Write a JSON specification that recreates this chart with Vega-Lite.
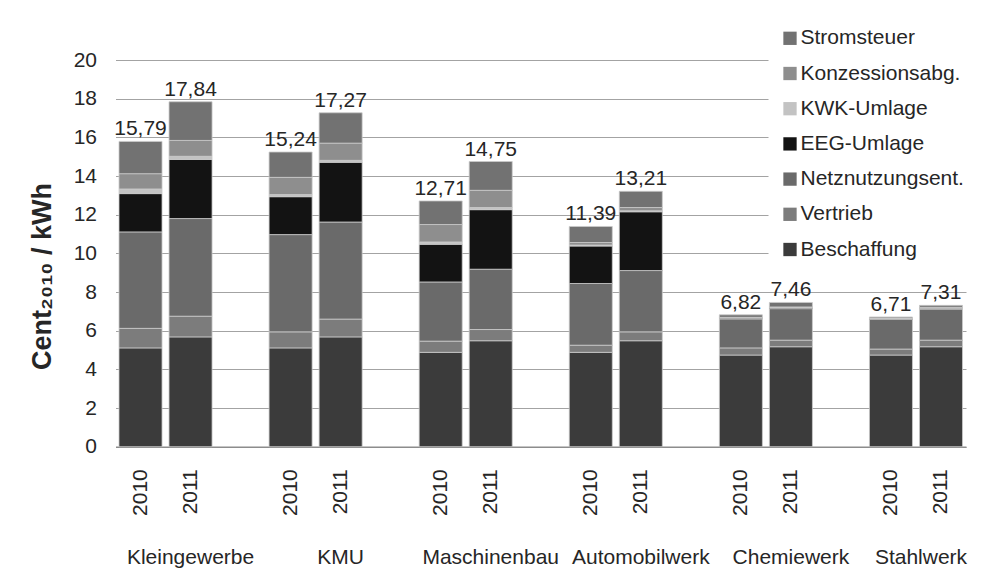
{
  "$schema": "https://vega.github.io/schema/vega-lite/v6.json",
  "width": 850.5,
  "height": 386.7,
  "autosize": {"type": "none"},
  "padding": {"left": 115.5, "top": 60, "right": 19, "bottom": 135.3},
  "background": "white",
  "config": {
    "view": {"stroke": null},
    "font": "Liberation Sans",
    "locale": {"number": {"decimal": ",", "thousands": ".", "grouping": [3], "currency": ["", " €"]}},
    "axis": {"labelFont": "Liberation Sans", "labelColor": "#262626", "titleColor": "#262626", "labelFontSize": 21},
    "axisY": {"labelOverlap": false}
  },
  "datasets": {
    "parts": [
      {"slot": "Kleingewerbe|2010", "component": "Beschaffung", "value": 5.11},
      {"slot": "Kleingewerbe|2010", "component": "Vertrieb", "value": 1.01},
      {"slot": "Kleingewerbe|2010", "component": "Netznutzungsent.", "value": 4.99},
      {"slot": "Kleingewerbe|2010", "component": "EEG-Umlage", "value": 1.98},
      {"slot": "Kleingewerbe|2010", "component": "KWK-Umlage", "value": 0.24},
      {"slot": "Kleingewerbe|2010", "component": "Konzessionsabg.", "value": 0.79},
      {"slot": "Kleingewerbe|2010", "component": "Stromsteuer", "value": 1.67},
      {"slot": "Kleingewerbe|2011", "component": "Beschaffung", "value": 5.68},
      {"slot": "Kleingewerbe|2011", "component": "Vertrieb", "value": 1.07},
      {"slot": "Kleingewerbe|2011", "component": "Netznutzungsent.", "value": 5.05},
      {"slot": "Kleingewerbe|2011", "component": "EEG-Umlage", "value": 3.06},
      {"slot": "Kleingewerbe|2011", "component": "KWK-Umlage", "value": 0.16},
      {"slot": "Kleingewerbe|2011", "component": "Konzessionsabg.", "value": 0.82},
      {"slot": "Kleingewerbe|2011", "component": "Stromsteuer", "value": 2.0},
      {"slot": "KMU|2010", "component": "Beschaffung", "value": 5.11},
      {"slot": "KMU|2010", "component": "Vertrieb", "value": 0.83},
      {"slot": "KMU|2010", "component": "Netznutzungsent.", "value": 5.03},
      {"slot": "KMU|2010", "component": "EEG-Umlage", "value": 1.96},
      {"slot": "KMU|2010", "component": "KWK-Umlage", "value": 0.11},
      {"slot": "KMU|2010", "component": "Konzessionsabg.", "value": 0.89},
      {"slot": "KMU|2010", "component": "Stromsteuer", "value": 1.31},
      {"slot": "KMU|2011", "component": "Beschaffung", "value": 5.68},
      {"slot": "KMU|2011", "component": "Vertrieb", "value": 0.92},
      {"slot": "KMU|2011", "component": "Netznutzungsent.", "value": 5.02},
      {"slot": "KMU|2011", "component": "EEG-Umlage", "value": 3.09},
      {"slot": "KMU|2011", "component": "KWK-Umlage", "value": 0.10},
      {"slot": "KMU|2011", "component": "Konzessionsabg.", "value": 0.89},
      {"slot": "KMU|2011", "component": "Stromsteuer", "value": 1.57},
      {"slot": "Maschinenbau|2010", "component": "Beschaffung", "value": 4.88},
      {"slot": "Maschinenbau|2010", "component": "Vertrieb", "value": 0.58},
      {"slot": "Maschinenbau|2010", "component": "Netznutzungsent.", "value": 3.06},
      {"slot": "Maschinenbau|2010", "component": "EEG-Umlage", "value": 1.95},
      {"slot": "Maschinenbau|2010", "component": "KWK-Umlage", "value": 0.12},
      {"slot": "Maschinenbau|2010", "component": "Konzessionsabg.", "value": 0.90},
      {"slot": "Maschinenbau|2010", "component": "Stromsteuer", "value": 1.22},
      {"slot": "Maschinenbau|2011", "component": "Beschaffung", "value": 5.48},
      {"slot": "Maschinenbau|2011", "component": "Vertrieb", "value": 0.58},
      {"slot": "Maschinenbau|2011", "component": "Netznutzungsent.", "value": 3.12},
      {"slot": "Maschinenbau|2011", "component": "EEG-Umlage", "value": 3.08},
      {"slot": "Maschinenbau|2011", "component": "KWK-Umlage", "value": 0.11},
      {"slot": "Maschinenbau|2011", "component": "Konzessionsabg.", "value": 0.89},
      {"slot": "Maschinenbau|2011", "component": "Stromsteuer", "value": 1.49},
      {"slot": "Automobilwerk|2010", "component": "Beschaffung", "value": 4.88},
      {"slot": "Automobilwerk|2010", "component": "Vertrieb", "value": 0.37},
      {"slot": "Automobilwerk|2010", "component": "Netznutzungsent.", "value": 3.19},
      {"slot": "Automobilwerk|2010", "component": "EEG-Umlage", "value": 1.94},
      {"slot": "Automobilwerk|2010", "component": "KWK-Umlage", "value": 0.05},
      {"slot": "Automobilwerk|2010", "component": "Konzessionsabg.", "value": 0.13},
      {"slot": "Automobilwerk|2010", "component": "Stromsteuer", "value": 0.83},
      {"slot": "Automobilwerk|2011", "component": "Beschaffung", "value": 5.48},
      {"slot": "Automobilwerk|2011", "component": "Vertrieb", "value": 0.46},
      {"slot": "Automobilwerk|2011", "component": "Netznutzungsent.", "value": 3.17},
      {"slot": "Automobilwerk|2011", "component": "EEG-Umlage", "value": 3.04},
      {"slot": "Automobilwerk|2011", "component": "KWK-Umlage", "value": 0.05},
      {"slot": "Automobilwerk|2011", "component": "Konzessionsabg.", "value": 0.17},
      {"slot": "Automobilwerk|2011", "component": "Stromsteuer", "value": 0.84},
      {"slot": "Chemiewerk|2010", "component": "Beschaffung", "value": 4.74},
      {"slot": "Chemiewerk|2010", "component": "Vertrieb", "value": 0.37},
      {"slot": "Chemiewerk|2010", "component": "Netznutzungsent.", "value": 1.50},
      {"slot": "Chemiewerk|2010", "component": "EEG-Umlage", "value": 0.05},
      {"slot": "Chemiewerk|2010", "component": "KWK-Umlage", "value": 0.01},
      {"slot": "Chemiewerk|2010", "component": "Konzessionsabg.", "value": 0.02},
      {"slot": "Chemiewerk|2010", "component": "Stromsteuer", "value": 0.13},
      {"slot": "Chemiewerk|2011", "component": "Beschaffung", "value": 5.17},
      {"slot": "Chemiewerk|2011", "component": "Vertrieb", "value": 0.34},
      {"slot": "Chemiewerk|2011", "component": "Netznutzungsent.", "value": 1.63},
      {"slot": "Chemiewerk|2011", "component": "EEG-Umlage", "value": 0.05},
      {"slot": "Chemiewerk|2011", "component": "KWK-Umlage", "value": 0.01},
      {"slot": "Chemiewerk|2011", "component": "Konzessionsabg.", "value": 0.03},
      {"slot": "Chemiewerk|2011", "component": "Stromsteuer", "value": 0.23},
      {"slot": "Stahlwerk|2010", "component": "Beschaffung", "value": 4.74},
      {"slot": "Stahlwerk|2010", "component": "Vertrieb", "value": 0.31},
      {"slot": "Stahlwerk|2010", "component": "Netznutzungsent.", "value": 1.53},
      {"slot": "Stahlwerk|2010", "component": "EEG-Umlage", "value": 0.05},
      {"slot": "Stahlwerk|2010", "component": "KWK-Umlage", "value": 0.01},
      {"slot": "Stahlwerk|2010", "component": "Konzessionsabg.", "value": 0.02},
      {"slot": "Stahlwerk|2010", "component": "Stromsteuer", "value": 0.05},
      {"slot": "Stahlwerk|2011", "component": "Beschaffung", "value": 5.17},
      {"slot": "Stahlwerk|2011", "component": "Vertrieb", "value": 0.34},
      {"slot": "Stahlwerk|2011", "component": "Netznutzungsent.", "value": 1.61},
      {"slot": "Stahlwerk|2011", "component": "EEG-Umlage", "value": 0.05},
      {"slot": "Stahlwerk|2011", "component": "KWK-Umlage", "value": 0.01},
      {"slot": "Stahlwerk|2011", "component": "Konzessionsabg.", "value": 0.03},
      {"slot": "Stahlwerk|2011", "component": "Stromsteuer", "value": 0.10}
    ],
    "totals": [
      {"slot": "Kleingewerbe|2010", "total": 15.79},
      {"slot": "Kleingewerbe|2011", "total": 17.84},
      {"slot": "KMU|2010", "total": 15.24},
      {"slot": "KMU|2011", "total": 17.27},
      {"slot": "Maschinenbau|2010", "total": 12.71},
      {"slot": "Maschinenbau|2011", "total": 14.75},
      {"slot": "Automobilwerk|2010", "total": 11.39},
      {"slot": "Automobilwerk|2011", "total": 13.21},
      {"slot": "Chemiewerk|2010", "total": 6.82},
      {"slot": "Chemiewerk|2011", "total": 7.46},
      {"slot": "Stahlwerk|2010", "total": 6.71},
      {"slot": "Stahlwerk|2011", "total": 7.31}
    ]
  },
  "layer": [
    {
      "data": {"name": "parts"},
      "transform": [
        {"calculate": "indexof(['Beschaffung', 'Vertrieb', 'Netznutzungsent.', 'EEG-Umlage', 'KWK-Umlage', 'Konzessionsabg.', 'Stromsteuer'], datum.component)", "as": "stackRank"}
      ],
      "mark": {"type": "bar", "stroke": "#cacaca", "strokeWidth": 0.8},
      "encoding": {
        "x": {
          "field": "slot", "type": "nominal",
          "scale": {
            "domain": ["Kleingewerbe|2010", "Kleingewerbe|2011", "gap1", "KMU|2010", "KMU|2011", "gap2", "Maschinenbau|2010", "Maschinenbau|2011", "gap3", "Automobilwerk|2010", "Automobilwerk|2011", "gap4", "Chemiewerk|2010", "Chemiewerk|2011", "gap5", "Stahlwerk|2010", "Stahlwerk|2011"],
            "paddingInner": 0.14, "paddingOuter": 0.07
          },
          "axis": {
            "orient": "bottom", "title": null,
            "labelExpr": "indexof(datum.value, '|') > 0 ? split(datum.value, '|')[1] : ''",
            "labelAngle": -90, "labelPadding": 22, "ticks": false,
            "domainColor": "#8c8c8c", "domainWidth": 1.5, "labelOverlap": false, "grid": false
          }
        },
        "y": {
          "field": "value", "type": "quantitative", "stack": "zero",
          "title": "Cent₂₀₁₀ / kWh",
          "scale": {"domain": [0, 20], "nice": false},
          "axis": {
            "values": [0, 2, 4, 6, 8, 10, 12, 14, 16, 18, 20],
            "labelOverlap": false,
            "grid": true, "gridColor": "#a3a3a3", "gridWidth": 1.2,
            "domain": false, "ticks": false, "labelPadding": 19,
            "titleFontSize": 27, "titleFontWeight": "bold", "titleFont": "Liberation Sans",
            "titleX": -65.5, "titleY": 216, "titleAlign": "center", "titleBaseline": "alphabetic", "titleAngle": -90
          }
        },
        "order": {"field": "stackRank", "type": "quantitative", "sort": "ascending"},
        "color": {
          "field": "component", "type": "nominal",
          "scale": {
            "domain": ["Stromsteuer", "Konzessionsabg.", "KWK-Umlage", "EEG-Umlage", "Netznutzungsent.", "Vertrieb", "Beschaffung"],
            "range": ["#727272", "#8e8e8e", "#c3c3c3", "#131313", "#6a6a6a", "#7c7c7c", "#3b3b3b"]
          },
          "legend": {
            "title": null, "orient": "none", "legendX": 653, "legendY": -43.2,
            "fillColor": "white", "padding": 11,
            "symbolType": "square", "symbolSize": 177, "symbolStrokeWidth": 0,
            "labelFontSize": 21, "labelFont": "Liberation Sans", "labelColor": "#262626",
            "labelOffset": 0, "rowPadding": 13.2, "labelLimit": 300
          }
        }
      }
    },
    {
      "data": {"name": "totals"},
      "mark": {"type": "text", "baseline": "alphabetic", "dy": -6, "fontSize": 21, "font": "Liberation Sans", "color": "#262626"},
      "encoding": {
        "x": {
          "field": "slot", "type": "nominal",
          "axis": {
            "orient": "bottom", "title": null,
            "labelExpr": "indexof(datum.value, '|2011') > 0 ? split(datum.value, '|')[0] : ''",
            "labelAngle": 0, "labelPadding": 100, "ticks": false, "domain": false, "grid": false,
            "labelOverlap": false, "labelBaseline": "top",
            "labelOffset": {"condition": {"test": "datum.value == 'Stahlwerk|2011'", "value": -20}, "value": 0}
          }
        },
        "y": {
          "field": "total", "type": "quantitative", "title": "Cent₂₀₁₀ / kWh",
          "axis": {
            "values": [0, 2, 4, 6, 8, 10, 12, 14, 16, 18, 20],
            "labelOverlap": false,
            "grid": true, "gridColor": "#a3a3a3", "gridWidth": 1.2,
            "domain": false, "ticks": false, "labelPadding": 19,
            "titleFontSize": 27, "titleFontWeight": "bold", "titleFont": "Liberation Sans",
            "titleX": -65.5, "titleY": 216, "titleAlign": "center", "titleBaseline": "alphabetic", "titleAngle": -90
          }
        },
        "text": {"field": "total", "type": "quantitative", "format": ".2f"}
      }
    }
  ],
  "resolve": {"axis": {"x": "independent"}}
}
